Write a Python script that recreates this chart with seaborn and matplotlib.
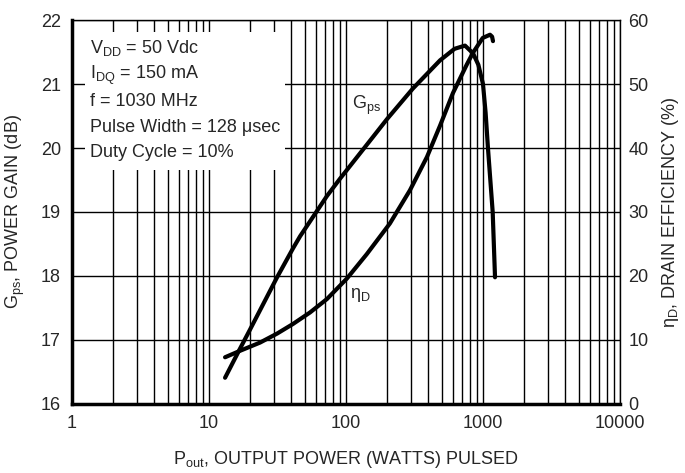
import matplotlib
matplotlib.use("Agg")
import matplotlib.pyplot as plt
import seaborn as sns
from matplotlib.patches import Rectangle
from matplotlib.ticker import FixedLocator, FixedFormatter, LogLocator, NullFormatter

# power gain curve (Pout in W, Gps in dB)
gps_pout = [13.1, 16.8, 19.9, 31.4, 41, 46.2, 72.6, 90.4, 157, 199, 308, 486,
            620, 739, 846, 925, 1000, 1045, 1087, 1177, 1224]
gps_db = [16.41, 16.86, 17.16, 17.98, 18.43, 18.62, 19.25, 19.52, 20.17, 20.45,
          20.93, 21.37, 21.55, 21.60, 21.48, 21.30, 21.00, 20.55, 20.0, 19.0, 17.98]

# drain efficiency curve (Pout in W, efficiency in %)
eff_pout = [13.1, 16.8, 23.6, 31.4, 41, 54.6, 72.6, 101.5, 141.6, 209, 293,
            390, 486, 604, 760, 846, 996, 1125, 1165, 1183]
eff_pct = [7.3, 8.3, 9.6, 11.0, 12.5, 14.3, 16.4, 19.6, 23.4, 28.2, 33.4,
           38.6, 43.5, 48.6, 53.0, 54.9, 57.2, 57.7, 57.4, 56.7]

x_ticks = [1, 10, 100, 1000, 10000]
x_labels = ["1", "10", "100", "1000", "10000"]
gps_ticks = [16, 17, 18, 19, 20, 21, 22]
eff_ticks = [0, 10, 20, 30, 40, 50, 60]

conditions = ["V$_{DD}$ = 50 Vdc", "I$_{DQ}$ = 150 mA", "f = 1030 MHz",
              "Pulse Width = 128 μsec", "Duty Cycle = 10%"]

sns.set_style("white")
plt.rcParams["font.family"] = ["Liberation Sans", "DejaVu Sans"]
plt.rcParams["mathtext.default"] = "regular"
fs = 13

fig = plt.figure(figsize=(6.85, 4.73), dpi=100)
ax = fig.add_axes([0.1051, 0.1459, 0.8, 0.8118])
ax2 = ax.twinx()

sns.lineplot(x=gps_pout, y=gps_db, sort=False, estimator=None, color="black",
             linewidth=3, ax=ax)
sns.lineplot(x=eff_pout, y=eff_pct, sort=False, estimator=None, color="black",
             linewidth=3, ax=ax2)

ax.set_xscale("log")
ax.set_xlim(1, 10000)
ax.set_ylim(16, 22)
ax2.set_ylim(0, 60)

ax.xaxis.set_major_locator(FixedLocator(x_ticks))
ax.xaxis.set_major_formatter(FixedFormatter(x_labels))
ax.xaxis.set_minor_locator(LogLocator(base=10, subs=range(2, 10)))
ax.xaxis.set_minor_formatter(NullFormatter())
ax.set_yticks(gps_ticks)
ax2.set_yticks(eff_ticks)

ax.grid(True, which="both", axis="x", color="black", linewidth=1)
ax.grid(True, which="major", axis="y", color="black", linewidth=1)
ax.set_axisbelow(True)

ax.tick_params(axis="both", which="both", length=0, labelsize=fs, pad=8)
ax2.tick_params(axis="y", length=0, labelsize=fs, pad=6)

for s in ["left", "bottom"]:
    ax.spines[s].set_linewidth(2.5)
    ax.spines[s].set_color("black")
for s in ["top", "right"]:
    ax.spines[s].set_linewidth(1)
    ax.spines[s].set_color("black")
for s in ax2.spines.values():
    s.set_visible(False)

ax.set_xlabel("P$_{out}$, OUTPUT POWER (WATTS) PULSED", fontsize=fs, labelpad=12)
ax.set_ylabel("G$_{ps}$, POWER GAIN (dB)", fontsize=fs, labelpad=10)
ax2.set_ylabel("η$_D$, DRAIN EFFICIENCY (%)", fontsize=fs, labelpad=8)

# white patch behind the test conditions
ax.add_patch(Rectangle((0.0237, 0.609), 0.365, 0.36, transform=ax.transAxes,
                       facecolor="white", edgecolor="none", zorder=1.5))
ys = [0.927, 0.857, 0.789, 0.719, 0.654]
for txt, yy in zip(conditions, ys):
    ax.text(0.033, yy, txt, transform=ax.transAxes, fontsize=fs,
            va="center", ha="left", zorder=3)

ax.text(110, 20.67, "G$_{ps}$", fontsize=fs, va="center", ha="left")
ax.text(107, 17.70, "η$_D$", fontsize=fs, va="center", ha="left")

fig.savefig("out.png", dpi=100)
